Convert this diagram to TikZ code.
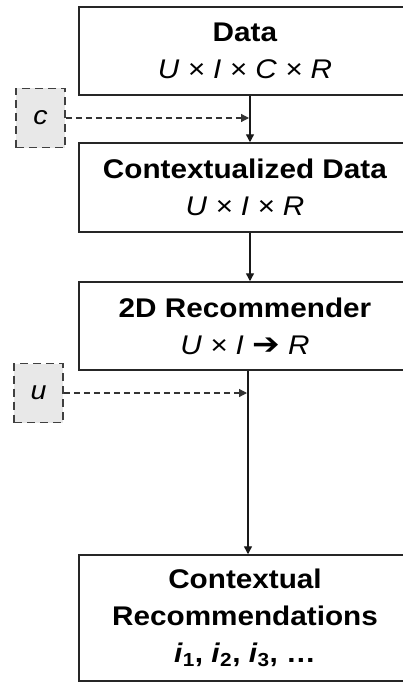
\documentclass[tikz,border=0pt]{standalone}
\usepackage{fontspec}
\setmainfont{Liberation Sans}[FakeStretch=1.1]
\newfontfamily\arrowfont{DejaVu Sans}[FakeStretch=1.1]
\usetikzlibrary{arrows.meta}

\tikzset{
  stage/.style={draw=black!85, line width=1.5pt, fill=white, rectangle,
    minimum width=344pt, align=center, inner sep=0pt,
    font=\fontsize{27}{37}\selectfont},
  ctxbox/.style={draw=black!75, line width=1.5pt, dash pattern=on 8pt off 5pt,
    fill=black!9, rectangle, minimum width=49pt, minimum height=59pt,
    inner sep=0pt, font=\fontsize{26}{30}\selectfont\itshape},
  flow/.style={draw=black!90, line width=1.4pt,
    -{Triangle[length=8pt,width=8pt]}},
  inject/.style={draw=black!80, line width=1.2pt, dash pattern=on 6pt off 4pt,
    -{Triangle[length=8pt,width=8pt]}}
}

\begin{document}
\begin{tikzpicture}[x=1pt,y=-1pt]
  \useasboundingbox (0,0) rectangle (403,682);
  \clip (0,0) rectangle (403,682);
  \fill[white] (0,0) rectangle (403,682);

  % processing stages (they run past the right edge of the page)
  \node[stage, minimum height=88pt] (data) at (251,51)
    {\hspace*{-12pt}\textbf{Data}\\\hspace*{-12pt}\textit{U × I × C × R}};
  \node[stage, minimum height=89pt] (ctx) at (251,187.5)
    {\hspace*{-12pt}\textbf{Contextualized Data}\\\hspace*{-12pt}\textit{U × I × R}};
  \node[stage, minimum height=88pt] (rec) at (251,326)
    {\hspace*{-12pt}\textbf{2D Recommender}\\\hspace*{-12pt}\textit{U × I}
     {\fontsize{30}{37}\arrowfont\bfseries ➔} \textit{R}};
  \node[stage, minimum height=126pt] (out) at (251,618)
    {\hspace*{-12pt}\textbf{Contextual}\\\hspace*{-12pt}\textbf{Recommendations}\\
     \hspace*{-12pt}\textbf{\textit{i}\textsubscript{1}, \textit{i}\textsubscript{2}, \textit{i}\textsubscript{3}, …}};

  % context and user inputs
  \node[ctxbox] (cin) at (40.5,118) {c};
  \node[ctxbox] (uin) at (38.5,393) {u};

  % main flow line
  \coordinate (axis) at (250,0);
  \coordinate (axisb) at (248,0);
  \draw[flow] (data.south -| axis) -- (ctx.north -| axis);
  \draw[flow] (ctx.south -| axis) -- (rec.north -| axis);
  \draw[flow] (rec.south -| axisb) -- (out.north -| axisb);

  % inputs joining the flow
  \draw[inject] (cin.east) -- ([xshift=-1pt]cin.east -| axis);
  \draw[inject] (uin.east) -- ([xshift=-1pt]uin.east -| axisb);
\end{tikzpicture}
\end{document}
